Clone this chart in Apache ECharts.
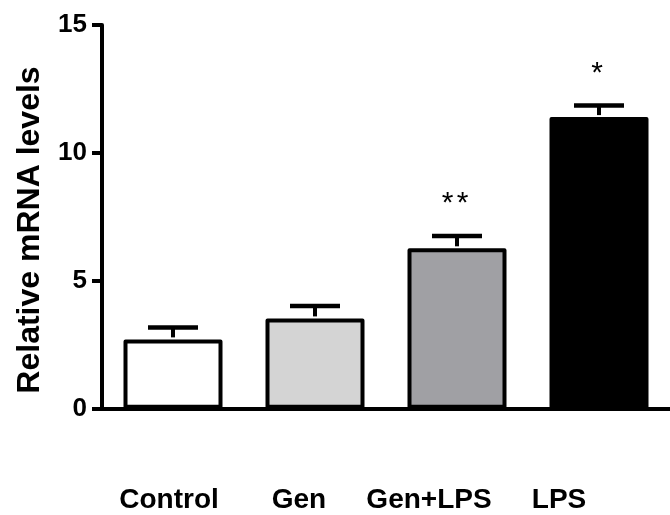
<!DOCTYPE html>
<html>
<head>
<meta charset="utf-8">
<script src="https://cdn.jsdelivr.net/npm/echarts@6/dist/echarts.min.js"></script>
<style>html,body{margin:0;padding:0;background:#fff;}#c{width:670px;height:515px;}</style>
</head>
<body>
<div id="c"></div>
<script>
var categories = ['Control', 'Gen', 'Gen+LPS', 'LPS'];
var means = [2.71, 3.53, 6.27, 11.4];
var upper = [3.17, 4.01, 6.75, 11.85];
var fills = ['#ffffff', '#d4d4d4', '#a0a0a4', '#000000'];
var sigMarks = ['', '', '**', '*'];
var yTicks = [0, 5, 10, 15];

var FONT = '"Liberation Sans", Arial, Helvetica, sans-serif';
var chart = echarts.init(document.getElementById('c'), null, {renderer: 'canvas'});

var option = {
  animation: false,
  backgroundColor: '#ffffff',
  grid: [
    {left: 102, right: -4.5, top: 25, bottom: 106.3, containLabel: false},
    {left: 104, right: 46, top: 400, height: 70, containLabel: false}
  ],
  xAxis: [
    {
      type: 'category', gridIndex: 0, data: categories,
      axisLine: {show: true, onZero: false, lineStyle: {color: '#000', width: 4}},
      axisTick: {show: false},
      axisLabel: {show: false},
      splitLine: {show: false}
    },
    {
      type: 'category', gridIndex: 1, data: categories,
      axisLine: {show: false}, axisTick: {show: false}, splitLine: {show: false},
      axisLabel: {show: true, interval: 0, margin: 16, color: '#000', fontSize: 28, fontWeight: 'bold', fontFamily: FONT}
    }
  ],
  yAxis: [
    {
      type: 'value', gridIndex: 0, min: yTicks[0], max: yTicks[yTicks.length - 1], interval: 5,
      axisLine: {show: true, lineStyle: {color: '#000', width: 4}},
      axisTick: {show: true, length: 10, lineStyle: {color: '#000', width: 4}},
      axisLabel: {show: true, margin: 15, color: '#000', fontSize: 26, fontWeight: 'bold', fontFamily: FONT},
      splitLine: {show: false}
    },
    {
      type: 'value', gridIndex: 1, show: false
    }
  ],
  graphic: [{
    type: 'text', x: 30, y: 230, rotation: Math.PI / 2,
    style: {text: 'Relative mRNA levels', fill: '#000', font: 'bold 32px ' + FONT, align: 'center', verticalAlign: 'middle'}
  }],
  series: [
    {
      type: 'bar', xAxisIndex: 0, yAxisIndex: 0, barWidth: 99,
      data: means.map(function (v, i) {
        return {value: v, itemStyle: {color: fills[i], borderColor: '#000', borderWidth: 4, borderJoin: 'round'}};
      }),
      z: 2
    },
    {
      type: 'custom', xAxisIndex: 0, yAxisIndex: 0, z: 3,
      data: upper.map(function (u, i) { return [i, means[i], u]; }),
      renderItem: function (params, api) {
        var i = api.value(0);
        var lo = api.coord([i, api.value(1)]);
        var hi = api.coord([i, api.value(2)]);
        var half = 25;
        var children = [
          {type: 'line', shape: {x1: hi[0], y1: lo[1] - 2, x2: hi[0], y2: hi[1]}, style: {stroke: '#000', lineWidth: 4}},
          {type: 'line', shape: {x1: hi[0] - half, y1: hi[1], x2: hi[0] + half, y2: hi[1]}, style: {stroke: '#000', lineWidth: 4.5}}
        ];
        var mark = sigMarks[params.dataIndex];
        var n = mark.length;
        for (var k = 0; k < n; k++) {
          var cx = hi[0] - 2 + (k - (n - 1) / 2) * 15;
          children.push({type: 'text', x: cx, y: hi[1] - 32, style: {text: mark.charAt(k), fill: '#000', font: '30px ' + FONT, align: 'center', verticalAlign: 'middle'}});
        }
        return {type: 'group', children: children};
      }
    }
  ]
};
chart.setOption(option);
</script>
</body>
</html>
